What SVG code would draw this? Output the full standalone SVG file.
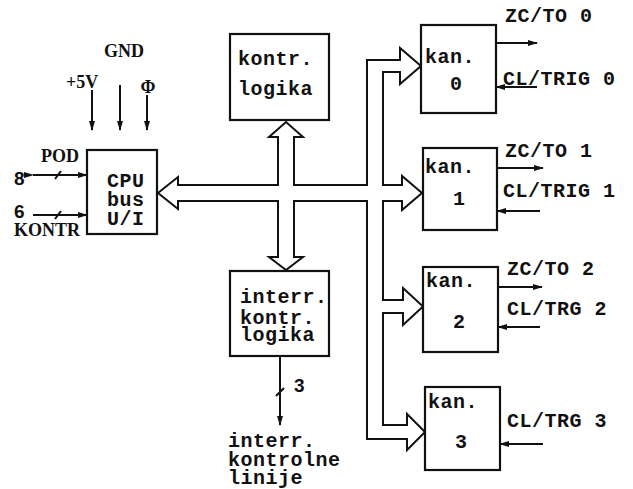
<svg xmlns="http://www.w3.org/2000/svg" width="633" height="489" viewBox="0 0 633 489">
<style>
.box{fill:#fff;stroke:#111;stroke-width:2.2}
.ln{fill:none;stroke:#111;stroke-width:2}
.bus{fill:#fff;stroke:#111;stroke-width:2;stroke-linejoin:miter}
.m{font-family:"Liberation Mono","Courier New",monospace;font-weight:bold;font-size:20px;fill:#111;letter-spacing:0.5px}
.s{font-family:"Liberation Serif","Times New Roman",serif;font-weight:bold;font-size:18px;fill:#111}
.n{font-family:"Liberation Sans",Arial,sans-serif;font-weight:bold;font-size:19px;fill:#111}
</style>
<defs>
<marker id="ah" markerWidth="10" markerHeight="6" refX="9" refY="3" orient="auto" markerUnits="userSpaceOnUse">
<path d="M0,0 L10,3 L0,6 z" fill="#111"/>
</marker>
</defs>
<g id="connectors">
<path class="bus" d="M178,185 L278,185 L278,137 L269,137 L286,122 L303,137 L294,137 L294,185 L367,185 L367,60 L400,60 L400,48 L421,66 L400,84 L400,72 L383,72 L383,185 L402,185 L402,176 L422,193 L402,210 L402,201 L383,201 L383,300 L403,300 L403,288 L423,306.5 L403,325 L403,313 L383,313 L383,425 L407,425 L407,414 L425,432 L407,450 L407,439 L367,439 L367,201 L294,201 L294,257 L303,257 L286,270 L269,257 L278,257 L278,201 L178,201 L178,209 L158,193 L178,177 Z"/>
<line class="ln" x1="92" y1="90" x2="92" y2="130" marker-end="url(#ah)"/>
<line class="ln" x1="120" y1="85" x2="120" y2="130" marker-end="url(#ah)"/>
<line class="ln" x1="147" y1="95" x2="147" y2="130" marker-end="url(#ah)"/>
<line class="ln" x1="33" y1="175" x2="87" y2="175" marker-start="url(#ah)" marker-end="url(#ah)"/>
<line class="ln" x1="55" y1="179" x2="61" y2="171"/>
<line class="ln" x1="33" y1="215" x2="87" y2="215" marker-end="url(#ah)"/>
<line class="ln" x1="55" y1="219" x2="61" y2="211"/>
<line class="ln" x1="280" y1="357" x2="280" y2="425" marker-start="url(#ah)" marker-end="url(#ah)"/>
<line class="ln" x1="276" y1="396" x2="284" y2="388"/>
<line class="ln" x1="496" y1="43" x2="537" y2="43" marker-end="url(#ah)"/>
<line class="ln" x1="537" y1="87" x2="496" y2="87" marker-end="url(#ah)"/>
<line class="ln" x1="497" y1="168" x2="543" y2="168" marker-end="url(#ah)"/>
<line class="ln" x1="540" y1="211" x2="497" y2="211" marker-end="url(#ah)"/>
<line class="ln" x1="498" y1="287" x2="542" y2="287" marker-end="url(#ah)"/>
<line class="ln" x1="540" y1="327" x2="498" y2="327" marker-end="url(#ah)"/>
<line class="ln" x1="543" y1="444" x2="500" y2="444" marker-end="url(#ah)"/>
</g>
<g id="labels">
<text class="s" x="104" y="57">GND</text>
<text class="s" x="66" y="88">+5V</text>
<text class="s" x="148" y="93" text-anchor="middle">Φ</text>
<text class="s" x="41" y="162">POD</text>
<text class="n" x="14" y="185">8</text>
<text class="n" x="14" y="218">6</text>
<text class="s" x="14" y="236">KONTR</text>
<text class="n" x="294" y="392" font-size="17">3</text>
<text class="m" x="228" y="447">interr.</text>
<text class="m" x="228" y="466">kontrolne</text>
<text class="m" x="228" y="484">linije</text>
<text class="m" x="505" y="22">ZC/TO 0</text>
<text class="m" x="503" y="85">CL/TRIG 0</text>
<text class="m" x="505" y="157">ZC/TO 1</text>
<text class="m" x="503" y="197">CL/TRIG 1</text>
<text class="m" x="507" y="275">ZC/TO 2</text>
<text class="m" x="507" y="315">CL/TRG 2</text>
<text class="m" x="507" y="427">CL/TRG 3</text>
</g>
<g id="cpu">
<rect class="box" x="87" y="150" width="70" height="84"/>
<text class="m" x="107" y="187" font-size="19">CPU</text>
<text class="m" x="107" y="206" font-size="19">bus</text>
<text class="m" x="107" y="225" font-size="19">U/I</text>
</g>
<g id="kontr">
<rect class="box" x="230" y="34" width="99" height="86"/>
<text class="m" x="238" y="65">kontr.</text>
<text class="m" x="238" y="95">logika</text>
</g>
<g id="interr">
<rect class="box" x="230" y="271" width="99" height="85"/>
<text class="m" x="240" y="303" font-size="19">interr.</text>
<text class="m" x="240" y="324" font-size="19">kontr.</text>
<text class="m" x="240" y="341" font-size="19">logika</text>
</g>
<g id="kan0">
<rect class="box" x="421" y="25" width="75" height="88"/>
<text class="m" x="425" y="63">kan.</text>
<text class="m" x="450" y="90">0</text>
</g>
<g id="kan1">
<rect class="box" x="423" y="148" width="74" height="82"/>
<text class="m" x="425" y="173">kan.</text>
<text class="m" x="453" y="205">1</text>
</g>
<g id="kan2">
<rect class="box" x="423" y="267" width="75" height="85"/>
<text class="m" x="426" y="287">kan.</text>
<text class="m" x="453" y="328">2</text>
</g>
<g id="kan3">
<rect class="box" x="425" y="387" width="75" height="83"/>
<text class="m" x="428" y="408">kan.</text>
<text class="m" x="455" y="448">3</text>
</g>
</svg>
